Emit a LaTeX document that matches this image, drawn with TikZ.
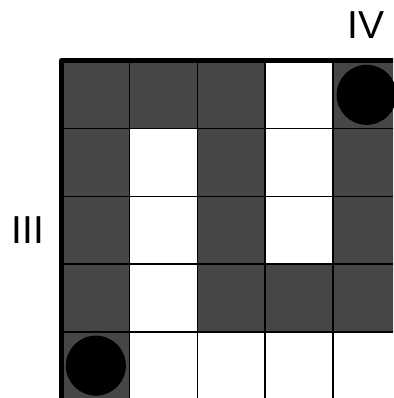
\documentclass[tikz,border=0pt]{standalone}
\usepackage{fontspec}
\setmainfont{Liberation Sans}
\definecolor{cellgray}{HTML}{464646}
\begin{document}
\begin{tikzpicture}[x=1pt,y=1pt,
  darkcell/.style={fill=cellgray},
  gridline/.style={line width=1.5pt, draw=black},
  border/.style={line width=4.5pt, draw=black, line join=round},
  stone/.style={circle, fill=black, minimum size=60pt, inner sep=0pt},
  lab/.style={font=\fontsize{39}{39}\selectfont, inner sep=0pt}]
\useasboundingbox (0,0) rectangle (393,398);
\def\s{67.7}
\begin{scope}
\clip (0,0) rectangle (393,398);
\foreach \c/\r in {0/0,1/0,2/0,4/0,0/1,2/1,4/1,0/2,2/2,4/2,0/3,2/3,3/3,4/3,0/4}
  \fill[darkcell] (62+\c*\s, 337-\r*\s-\s) rectangle (62+\c*\s+\s, 337-\r*\s);
\foreach \i in {1,...,4} {
  \draw[gridline] (62+\i*\s, 337) -- (62+\i*\s, 0);
  \draw[gridline] (62, 337-\i*\s) -- (393, 337-\i*\s);
}
\draw[border] (61.7, -5) -- (61.7, 337.5) -- (400, 337.5);
\end{scope}
\node[stone] (s1) at (95.85, 32.35) {};
\node[stone] (s2) at (366.65, 303.15) {};
\node[lab] (l3) at (28, 168) {III};
\node[lab] (l4) at (366, 373) {IV};
\end{tikzpicture}
\end{document}
